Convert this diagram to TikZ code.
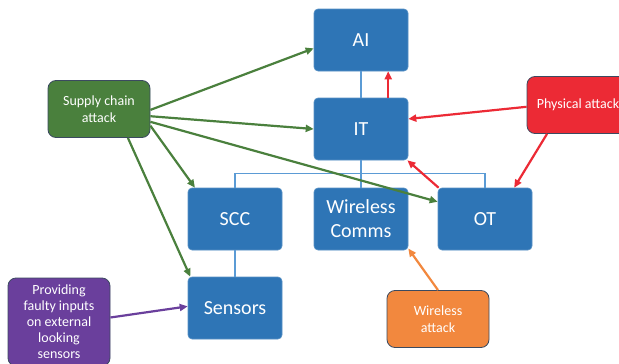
\documentclass[tikz,border=0pt]{standalone}
\usepackage{fontspec}
\setmainfont{Carlito}
\usepackage{tikz}
\usetikzlibrary{arrows.meta}

\definecolor{boxblue}{HTML}{2E75B6}
\definecolor{linkblue}{HTML}{5B9BD5}
\definecolor{supgreen}{HTML}{4A803D}
\definecolor{phyred}{HTML}{EC2A35}
\definecolor{wlorange}{HTML}{F2883E}
\definecolor{faultpurple}{HTML}{6A3F9C}
\definecolor{rimgrey}{HTML}{3B4A60}

\begin{document}
\begin{tikzpicture}[x=1pt,y=-1pt,
  part/.style={rounded corners=4pt,fill=boxblue,draw=boxblue!80!white,line width=0.6pt,
    minimum width=94pt,minimum height=62pt,inner sep=0pt,align=center,text=white,
    font=\fontsize{20}{24}\selectfont},
  threat/.style={rounded corners=8pt,fill=#1,draw=rimgrey,line width=0.8pt,
    minimum width=102pt,minimum height=57pt,inner sep=0pt,align=center,text=white,
    font=\fontsize{14}{16.5}\selectfont},
  link/.style={draw=linkblue,line width=1.1pt},
  hit/.style={draw=#1,line width=2.2pt,-{Triangle[length=8pt,width=7pt]}}]
\useasboundingbox (0,0) rectangle (619,364);
\clip (0,0) rectangle (619,364);
\fill[white] (0,0) rectangle (619,364);
% system parts
\node[part] (ai) at (361,40) {AI};
\node[part] (it) at (361,129) {IT};
\node[part] (scc) at (235,219) {SCC};
\node[part] (wl) at (361,219) {Wireless\\Comms};
\node[part] (ot) at (485,219) {OT};
\node[part] (sen) at (235,308) {Sensors};
% thin links between parts
\draw[link] (ai.south) -- (it.north);
\draw[link] (it.south) -- (wl.north);
\draw[link] (scc.north) -- ++(0,-14) -| (ot.north);
\draw[link] (scc.south) -- (sen.north);
% attacks
\node[threat=supgreen] (supply) at (99,109) {Supply chain\\attack};
\node[threat=phyred] (phys) at (578,105) {Physical attack};
\node[threat=wlorange] (wattack) at (438,319) {Wireless\\attack};
\node[threat=faultpurple,minimum height=88pt,font=\fontsize{14}{16}\selectfont] (fault) at (59,322)
  {Providing\\faulty inputs\\on external\\looking\\sensors};
% attack paths
\draw[hit=supgreen] (supply.-1) -- (ai.190);
\draw[hit=supgreen] (supply.-8) -- (it.west);
\draw[hit=supgreen] (supply.-14) -- (ot.160);
\draw[hit=supgreen] (supply.-18) -- (scc.142);
\draw[hit=supgreen] (supply.-45) -- (sen.145);
\draw[hit=phyred] (it.49) -- (ai.-49);
\draw[hit=phyred] (phys.182) -- (it.12);
\draw[hit=phyred] (phys.223) -- (ot.47);
\draw[hit=phyred] (ot.146) -- (it.-34);
\draw[hit=wlorange] (wattack.north) -- (wl.-32);
\draw[hit=faultpurple] (fault.5) -- (sen.178);
\end{tikzpicture}
\end{document}
